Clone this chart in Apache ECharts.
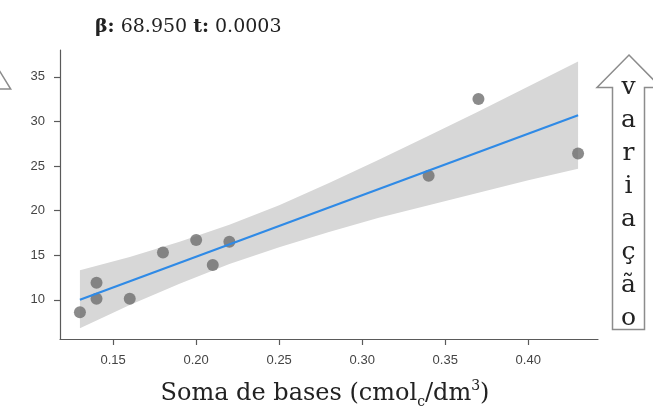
<!DOCTYPE html>
<html>
<head>
<meta charset="utf-8">
<script src="https://cdn.jsdelivr.net/npm/echarts@6/dist/echarts.min.js"></script>
<style>
  html, body { margin: 0; padding: 0; background: #fff; }
  #chart { width: 653px; height: 406px; }
</style>
</head>
<body>
<div id="chart"></div>
<script>
// Observations: sum of bases (cmolc/dm3) vs. response
const xValues = [0.13, 0.14, 0.14, 0.16, 0.18, 0.20, 0.21, 0.22, 0.34, 0.37, 0.43];
const yValues = [8.6, 11.9, 10.1, 10.1, 15.3, 16.7, 13.9, 16.5, 23.9, 32.5, 26.4];

// Linear fit (slope as reported in the header) and its confidence band
const slope = 68.95;
const intercept = 1.04;
const fitRange = [0.13, 0.43];
const bandX = [0.13, 0.16, 0.19, 0.22, 0.25, 0.28, 0.31, 0.34, 0.37, 0.40, 0.43];
const bandUpper = [13.3, 14.8, 16.5, 18.4, 20.6, 23.1, 25.7, 28.4, 31.1, 33.9, 36.7];
const bandLower = [6.8, 9.4, 11.8, 14.0, 15.9, 17.6, 19.2, 20.6, 22.0, 23.4, 24.7];

// Axis ticks
const xTicks = [0.15, 0.20, 0.25, 0.30, 0.35, 0.40];
const yTicks = [10, 15, 20, 25, 30, 35];

// Header and side label
const betaText = '68.950';
const tText = '0.0003';
const sideWord = ['v', 'a', 'r', 'i', 'a', 'ç', 'ã', 'o'];

const SERIF = '"DejaVu Serif", "Liberation Serif", serif';
const SANS = '"Liberation Sans", Arial, sans-serif';

const points = xValues.map((x, i) => [x, yValues[i]]);
const fitLine = fitRange.map(x => [x, intercept + slope * x]);

const chart = echarts.init(document.getElementById('chart'), null, { renderer: 'canvas' });

chart.setOption({
  animation: false,
  backgroundColor: '#ffffff',
  title: {
    text: '{b|β:} ' + betaText + ' {b|t:} ' + tText,
    left: 90,
    top: 13,
    textStyle: {
      fontFamily: SERIF, fontSize: 19, fontWeight: 'normal', color: '#222',
      rich: { b: { fontFamily: SERIF, fontSize: 19, fontWeight: 'bold', color: '#222' } }
    }
  },
  grid: { left: 60, top: 50, width: 538, height: 289, containLabel: false, outerBoundsMode: 'none' },
  xAxis: {
    type: 'value',
    min: 0.118,
    max: 0.442,
    name: 'Soma de bases (cmol{sub|c}/dm{sup|3})',
    nameLocation: 'middle',
    nameGap: 40,
    nameTextStyle: {
      fontFamily: SERIF, fontSize: 24, color: '#222', lineHeight: 30,
      padding: [0, 8, 0, 0],
      rich: {
        sub: { fontFamily: SERIF, fontSize: 14, color: '#222', lineHeight: 19, verticalAlign: 'bottom' },
        sup: { fontFamily: SERIF, fontSize: 14, color: '#222', lineHeight: 22, verticalAlign: 'top' }
      }
    },
    splitLine: { show: false },
    axisLine: { show: true, lineStyle: { color: '#5a5a5a', width: 1.2 } },
    axisTick: { show: true, length: 6, customValues: xTicks, lineStyle: { color: '#5a5a5a', width: 1.2 } },
    axisLabel: {
      customValues: xTicks, margin: 15, fontFamily: SANS, fontSize: 13, color: '#444',
      formatter: v => v.toFixed(2)
    }
  },
  yAxis: {
    type: 'value',
    min: 5.6,
    max: 38,
    splitLine: { show: false },
    axisLine: { show: true, lineStyle: { color: '#5a5a5a', width: 1.2 } },
    axisTick: { show: true, length: 6, customValues: yTicks, lineStyle: { color: '#5a5a5a', width: 1.2 } },
    axisLabel: { customValues: yTicks, margin: 15, fontFamily: SANS, fontSize: 13, color: '#444' }
  },
  series: [
    {
      name: 'band',
      type: 'custom',
      z: 1,
      silent: true,
      data: [[bandX[0], bandLower[0]]],
      renderItem: (params, api) => {
        const upper = bandX.map((x, i) => api.coord([x, bandUpper[i]]));
        const lower = bandX.map((x, i) => api.coord([x, bandLower[i]])).reverse();
        return {
          type: 'polygon',
          shape: { points: upper.concat(lower) },
          style: { fill: '#d7d7d7' }
        };
      }
    },
    {
      name: 'obs',
      type: 'scatter',
      z: 2,
      data: points,
      symbol: 'circle',
      symbolSize: 12,
      itemStyle: { color: '#6e6e6e' }
    },
    {
      name: 'fit',
      type: 'line',
      z: 3,
      data: fitLine,
      showSymbol: false,
      lineStyle: { color: '#2f8ae6', width: 2.2 }
    }
  ],
  graphic: [
    {
      type: 'polygon',
      shape: {
        points: [[629, 55], [661, 87.5], [644.5, 87.5], [644.5, 329.5],
                 [612.5, 329.5], [612.5, 87.5], [597, 87.5]]
      },
      style: { fill: '#fff', stroke: '#8c8c8c', lineWidth: 1.5 }
    },
    {
      type: 'text',
      x: 628.5,
      y: 71,
      style: {
        text: sideWord.join('\n'),
        fontFamily: SERIF, fontSize: 25, lineHeight: 33,
        fill: '#222', align: 'center', verticalAlign: 'top'
      }
    },
    {
      type: 'polyline',
      shape: { points: [[-1, 70], [10.7, 89], [-1, 89]] },
      style: { fill: null, stroke: '#8c8c8c', lineWidth: 1.5 }
    }
  ]
});
</script>
</body>
</html>
